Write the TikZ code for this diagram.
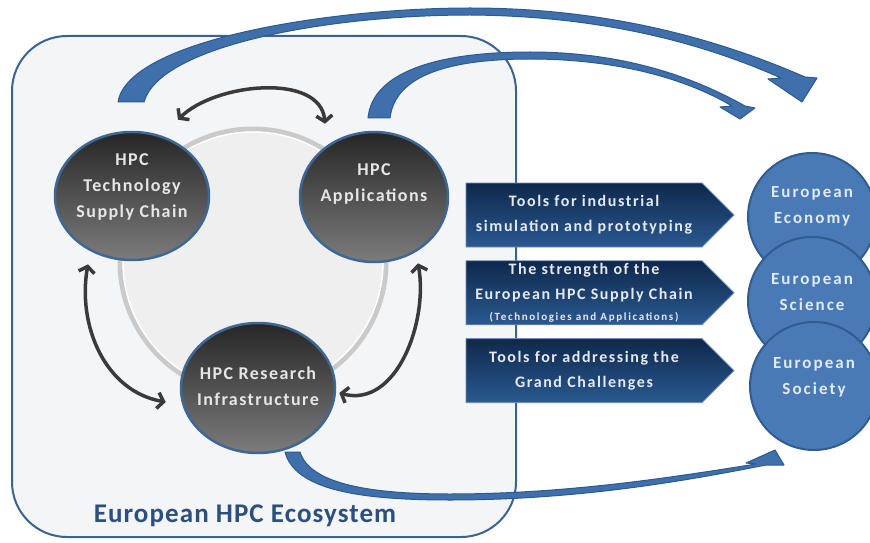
\documentclass[tikz,border=0pt]{standalone}
\usepackage{fontspec}
\setmainfont{Carlito}
\newfontfamily\hpcfont[LetterSpace=8]{Carlito}
\newfontfamily\boxfont[LetterSpace=10]{Carlito}
\newfontfamily\smallfont[LetterSpace=15]{Carlito}
\newfontfamily\eufont[LetterSpace=12]{Carlito}
\newfontfamily\titlefont[LetterSpace=4]{Carlito}
\usepackage{tikz}
\usetikzlibrary{shapes.geometric,shapes.symbols,arrows.meta,positioning}

\definecolor{ecorim}{HTML}{3B6391}
\definecolor{ecofill}{HTML}{F4F5F7}
\definecolor{ecotext}{HTML}{2B4F7E}
\definecolor{ringgray}{HTML}{CACACA}
\definecolor{ringfill}{HTML}{EFEFF0}
\definecolor{hpcrim}{HTML}{3D6896}
\definecolor{hpctop}{HTML}{262626}
\definecolor{hpcbot}{HTML}{7C7C7C}
\definecolor{hpctext}{HTML}{E6E6E6}
\definecolor{arrowblue}{HTML}{4070AC}
\definecolor{arrowrim}{HTML}{2B5A90}
\definecolor{arrowgray}{HTML}{3A3A3A}
\definecolor{boxtop}{HTML}{0F284B}
\definecolor{boxbot}{HTML}{2A5991}
\definecolor{boxrim}{HTML}{6A8EBE}
\definecolor{boxtext}{HTML}{E4EAF2}
\definecolor{eublue}{HTML}{4A7AB6}
\definecolor{eurim}{HTML}{2F5D92}
\definecolor{eutext}{HTML}{E2EAF4}

\tikzset{
  ecoframe/.style={draw=ecorim, fill=ecofill, line width=2pt, rounded corners=55pt},
  ring/.style={draw=ringgray, fill=ringfill, line width=5pt},
  hpcnode/.style={ellipse, draw=hpcrim, line width=2.5pt, top color=hpctop,
    bottom color=hpcbot, minimum width=154pt, minimum height=128pt, inner sep=0pt},
  hpclabel/.style={text=hpctext, align=center,
    font={\hpcfont\fontsize{18}{26}\selectfont\bfseries}},
  bluearrow/.style={fill=arrowblue, draw=arrowrim, line width=1pt, line join=round},
  biarrow/.style={draw=arrowgray, line width=3.5pt, <->,
    >={Straight Barb[length=6pt,width=16pt]}},
  toolbox/.style={signal, signal to=east, signal pointer angle=90, draw=boxrim,
    line width=0.8pt, top color=boxtop, bottom color=boxbot,
    minimum width=268pt, minimum height=64pt, inner sep=0pt,
    text=boxtext, align=center, font={\boxfont\fontsize{16}{25}\selectfont\bfseries}},
  eucircle/.style={circle, draw=eurim, line width=2pt, fill=eublue,
    minimum size=128pt, inner sep=0pt},
  eulabel/.style={text=eutext, align=center,
    font={\eufont\fontsize{17}{26}\selectfont\bfseries}}
}

\begin{document}
\begin{tikzpicture}[x=1pt,y=1pt]
\useasboundingbox (0,0) rectangle (870,542);
\clip (0,0) rectangle (870,542);

% ecosystem frame and the ring behind the three actors
\draw[ecoframe] (12,5) rectangle (516,506);
\node[text=ecotext, font={\titlefont\fontsize{27}{30}\selectfont\bfseries}] (ecotitle) at (245,26) {European HPC Ecosystem};
\draw[ring] (253,280) circle (133);
\draw[white, line width=1.5pt] (253,280) circle (130);

% broad curved arrows out of the ecosystem
\draw[bluearrow] (118,440) .. controls (128,502) and (330,534) .. (470,534)
  .. controls (610,534) and (720,502) .. (805,465) -- (817,464) -- (802,440)
  -- (768,463) -- (781,464) .. controls (700,500) and (600,526) .. (470,527)
  .. controls (330,527) and (160,497) .. (144,440) -- cycle;
\draw[bluearrow] (368,424) .. controls (372,467) and (430,490) .. (530,490)
  .. controls (620,490) and (690,467) .. (745,436) -- (755,434) -- (740,423)
  -- (720,435) -- (732,436) .. controls (685,464) and (615,483) .. (530,483)
  .. controls (450,483) and (395,467) .. (390,424) -- cycle;
\draw[bluearrow] (285,90) .. controls (295,52) and (360,42) .. (450,42)
  .. controls (580,42) and (690,62) .. (766,77) -- (784,77) -- (775,92)
  -- (746,79) -- (756,78) .. controls (680,66) and (570,48) .. (450,48)
  .. controls (370,48) and (310,58) .. (300,90) -- cycle;

% the three actors
\node[hpcnode] (tech) at (132,346) {};
\node[hpclabel] at ([yshift=9pt]tech.center) {HPC\\Technology\\Supply Chain};
\node[hpcnode, minimum width=148pt, minimum height=130pt] (apps) at (374,345) {};
\node[hpclabel] at ([yshift=13pt]apps.center) {HPC\\Applications};
\node[hpcnode, minimum height=130pt] (research) at (258,154) {};
\node[hpclabel] at ([yshift=2pt]research.center) {HPC Research\\Infrastructure};

\draw[biarrow] ([shift={(46,11)}]tech.north) to[out=45,in=95,looseness=0.9] ([shift={(-49,7)}]apps.north);
\draw[biarrow] ([shift={(-44,-3)}]tech.south) to[out=-100,in=170] ([shift={(-14,-14)}]research.west);
\draw[biarrow] ([shift={(44,0)}]apps.south) to[out=-80,in=-15] ([shift={(3,-5)}]research.east);

% what the ecosystem delivers
\node[toolbox] (industry) at (584,327) {Tools for industrial\\simulation and prototyping};
\node[toolbox, below=13pt of industry] (strength) {The strength of the\\European HPC Supply Chain\\[-4pt]{\smallfont\fontsize{11}{12}\selectfont (Technologies and Applications)}};
\node[toolbox, below=13pt of strength] (challenges) {Tools for addressing the\\Grand Challenges};

% targets
\node[eucircle] (economy) at (812,325) {};
\node[eulabel] at ([yshift=11pt]economy.center) {European\\Economy};
\node[eucircle] (science) at (812,241) {};
\node[eulabel] at ([yshift=9pt]science.center) {European\\Science};
\node[eucircle] (society) at (814,156) {};
\node[eulabel] at ([yshift=9pt]society.center) {European\\Society};
\end{tikzpicture}
\end{document}
